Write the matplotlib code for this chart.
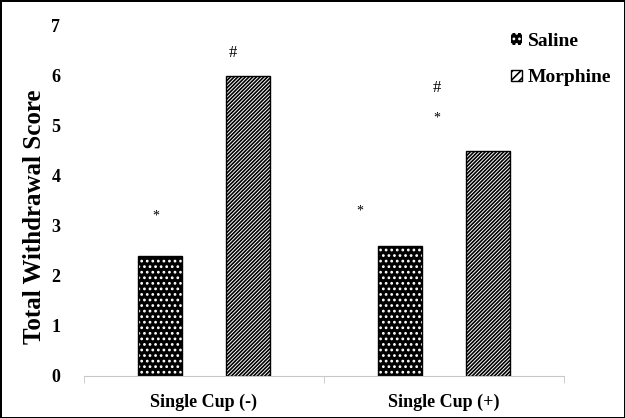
import numpy as np
import matplotlib
matplotlib.use("Agg")
import matplotlib.pyplot as plt
from matplotlib.patches import Patch

# data
groups = ["Single Cup (-)", "Single Cup (+)"]
saline = [2.4, 2.6]
morphine = [6.0, 4.5]
yticks = [0, 1, 2, 3, 4, 5, 6, 7]

# significance marks: (text, x position, y value)
marks = [("*", -0.2, 3.2), ("#", 0.12, 6.45), ("*", 0.65, 3.3),
         ("#", 0.97, 5.75), ("*", 0.97, 5.15)]

plt.rcParams["font.family"] = ["Liberation Serif", "DejaVu Serif"]
plt.rcParams["font.weight"] = "bold"
plt.rcParams["hatch.linewidth"] = 1.2

fig = plt.figure(figsize=(6.25, 4.18), dpi=100)
fig.patch.set_edgecolor("black")
fig.patch.set_linewidth(2)
ax = fig.add_axes([0.1344, 0.1005, 0.768, 0.8373])

x = np.arange(len(groups))
w = 0.185
off = 0.183

# saline: black with white dots
ax.bar(x - off, saline, w, color="black", edgecolor="white", hatch="...", lw=0)
ax.bar(x - off, saline, w, fill=False, edgecolor="black", lw=1)
# morphine: white with black diagonal lines
ax.bar(x + off, morphine, w, color="white", edgecolor="black", hatch="/////////", lw=1)

for t, xx, yy in marks:
    ax.text(xx, yy, t, ha="center", va="center", fontsize=12 if t == "#" else 10,
            fontweight="normal")

ax.set_xlim(-0.5, 1.5)
ax.set_ylim(0, 7)
ax.set_yticks(yticks)
ax.set_xticks([-0.5, 0.5, 1.5], minor=True)
ax.set_xticks(x)
ax.set_xticklabels(groups, fontsize=13, fontweight="bold")
ax.tick_params(axis="x", which="major", length=0, pad=13)
ax.tick_params(axis="x", which="minor", length=5, color="#c8c8c8")
ax.tick_params(axis="y", length=0, pad=17, labelsize=13)
for s in ["top", "right", "left"]:
    ax.spines[s].set_visible(False)
ax.spines["bottom"].set_color("#c8c8c8")
ax.set_ylabel("Total Withdrawal Score", fontsize=18, fontweight="bold")
ax.yaxis.set_label_coords(-0.08, 0.455)

handles = [Patch(facecolor="black", edgecolor="white", hatch="...", lw=0),
           Patch(facecolor="white", edgecolor="black", hatch="////", lw=1)]
ax.legend(handles, ["Saline", "Morphine"], loc="upper right",
          bbox_to_anchor=(1.135, 1.03), frameon=False,
          handlelength=0.55, handleheight=0.55, handletextpad=0.3, labelspacing=1.0,
          prop={"weight": "bold", "size": 14})

fig.savefig("out.png", dpi=100, edgecolor=fig.get_edgecolor())
